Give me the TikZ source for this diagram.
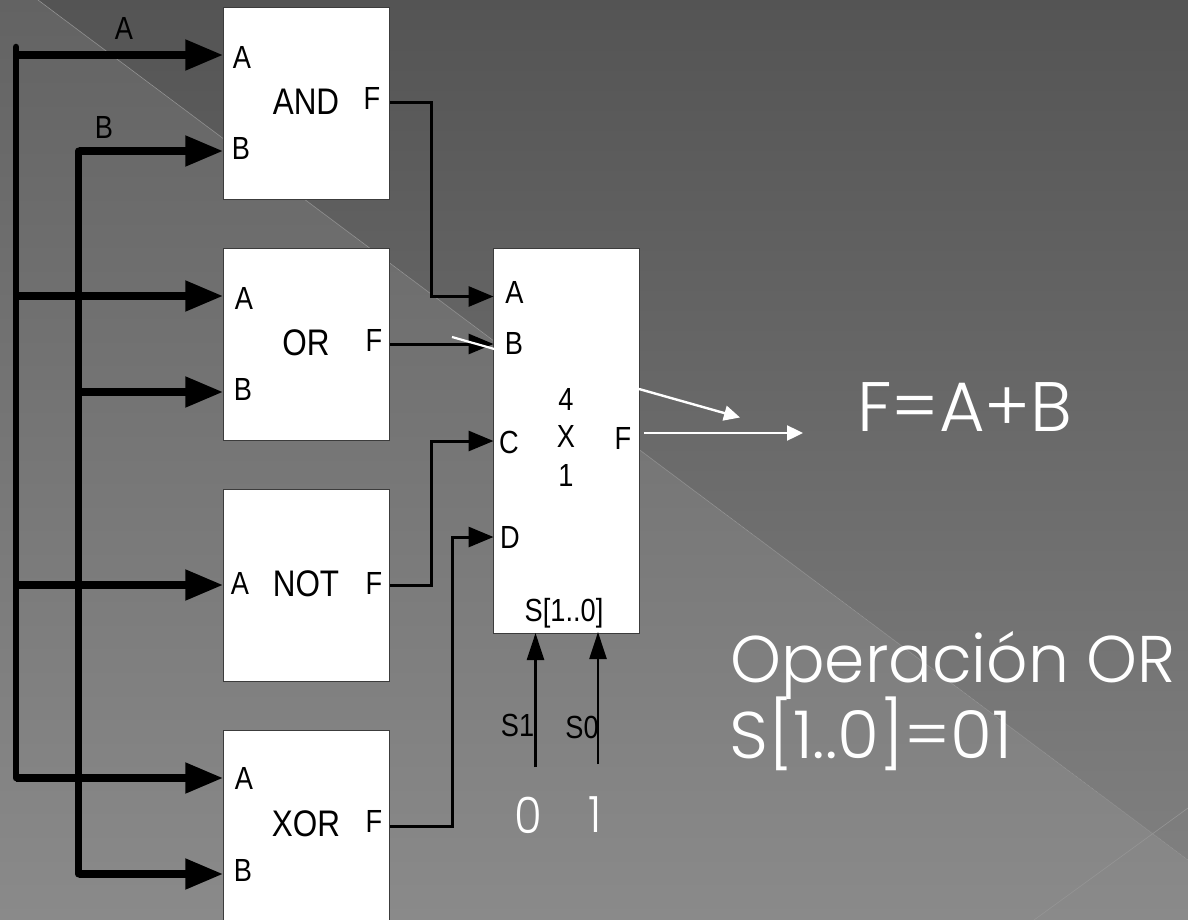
\documentclass[tikz,border=0pt]{standalone}
\usepackage{fontspec}
\setmainfont{Liberation Sans}
\newfontfamily\titlefont{Poppins Light}
\usetikzlibrary{arrows.meta}
\definecolor{topdark}{HTML}{545454}
\definecolor{botdark}{HTML}{828282}
\definecolor{toplight}{HTML}{636363}
\definecolor{botlight}{HTML}{8A8A8A}
\definecolor{rule}{HTML}{959595}
\definecolor{boxedge}{HTML}{3C3C3C}
\tikzset{
  blockbox/.style={draw=boxedge,fill=white,line width=0.9pt,minimum width=166.5pt,minimum height=192pt,inner sep=0pt,outer sep=0pt},
  muxbox/.style={draw=boxedge,fill=white,line width=0.9pt,minimum width=146pt,minimum height=385pt,inner sep=0pt,outer sep=0pt},
  lab/.style={inner sep=0pt,font=\fontsize{32}{32}\selectfont,xscale=.85,text=black},
  biglab/.style={inner sep=0pt,font=\fontsize{37}{37}\selectfont,xscale=.85,text=black},
  title/.style={inner sep=0pt,anchor=base west,text=white,font=\titlefont\fontsize{66}{66}\selectfont},
  digit/.style={inner sep=0pt,text=white,xscale=.9,font=\titlefont\fontsize{50}{50}\selectfont},
  bus/.style={line width=6.5pt,line cap=round,draw=black},
  busin/.style={line width=8pt,draw=black,-{Triangle[length=38pt,width=29pt]}},
  wire/.style={line width=3pt,draw=black,-{Triangle[length=25pt,width=20pt]}},
  sel/.style={line width=2.4pt,draw=black,-{Triangle[length=27pt,width=17pt]}},
  whitearrow/.style={line width=2.4pt,draw=white,-{Triangle[length=16pt,width=15pt]}},
}
\begin{document}
\begin{tikzpicture}[x=1pt,y=-1pt]
\useasboundingbox (0,0) rectangle (1188,920);
\begin{scope}
\clip (0,0) rectangle (1188,920);
\fill[top color=topdark,bottom color=botdark] (0,0) rectangle (1188,920);
\fill[top color=toplight,bottom color=botlight] (38,0) -- (1188,860) -- (1188,920) -- (0,920) -- (0,0) -- cycle;
\draw[rule,line width=0.6pt] (38,0) -- (1188,860);
\draw[rule,line width=0.6pt] (1034,920) -- (1188,808);

% blocks
\node[blockbox] (and) at (306.5,103) {};
\node[blockbox] (or)  at (306.5,344) {};
\node[blockbox] (not) at (306.5,585) {};
\node[blockbox] (xor) at (306.5,826) {};
\node[muxbox]   (mux) at (566.5,440.5) {};

% bus ends and junctions
\coordinate (atop) at (16,47);
\coordinate (abot) at (16,778);
\coordinate (btop) at (78.5,151);
\coordinate (bbot) at (78.5,874);
\coordinate (aj1) at (16,55);
\coordinate (aj2) at (13,296);
\coordinate (aj3) at (13,585);
\coordinate (bj2) at (78.5,392);

\draw[bus] (atop) -- (abot);
\draw[bus,line width=7pt] (btop) -- (bbot);

\draw[busin] (aj1) -- (and.west |- aj1);
\draw[busin] (btop) -- (and.west |- btop);
\draw[busin] (aj2) -- (or.west |- aj2);
\draw[busin] (bj2) -- (or.west |- bj2);
\draw[busin] (aj3) -- (not.west |- aj3);
\draw[busin] (abot) -- (xor.west |- abot);
\draw[busin] (bbot) -- (xor.west |- bbot);

% outputs to multiplexer
\coordinate (ma) at (493.5,296.5);
\coordinate (mb) at (493.5,344);
\coordinate (mc) at (493.5,441);
\coordinate (md) at (493.5,537);
\draw[wire] (and.east) -- (431,103) -- (431,296.5) -- (ma);
\draw[wire] (or.east) -- (mb);
\draw[wire] (not.east) -- (431,585) -- (431,441) -- (mc);
\draw[wire] (xor.east) -- (452,826) -- (452,537) -- (md);

% selector inputs
\coordinate (s1a) at (535.5,767);
\coordinate (s1b) at (535.5,633);
\coordinate (s0a) at (598,764);
\coordinate (s0b) at (598,632);
\draw[sel] (s1a) -- (s1b);
\draw[sel] (s0a) -- (s0b);

% white marks
\coordinate (wa) at (452,337);
\coordinate (wb) at (496,349.5);
\draw[draw=white,line width=2.2pt] (wa) -- (wb);
\coordinate (xa) at (639,389);
\coordinate (xb) at (740,417.5);
\coordinate (ya) at (644,433);
\coordinate (yb) at (803,433);
\draw[whitearrow] (xa) -- (xb);
\draw[whitearrow] (ya) -- (yb);

% labels
\node[lab] (la) at (124,28) {A};
\node[lab] (lb) at (104,127) {B};

\node[lab] (a1) at (242,57) {A};
\node[lab] (b1) at (241,148) {B};
\node[lab] (f1) at (372,98) {F};
\node[biglab] (t1) at (306,102) {AND};

\node[lab] (a2) at (244,298) {A};
\node[lab] (b2) at (243,389) {B};
\node[lab] (f2) at (374,340) {F};
\node[biglab] (t2) at (306,343) {OR};

\node[lab] (a3) at (240,583) {A};
\node[lab] (f3) at (374,583) {F};
\node[biglab] (t3) at (306,584) {NOT};

\node[lab] (a4) at (244,778) {A};
\node[lab] (b4) at (243,870) {B};
\node[lab] (f4) at (374,821) {F};
\node[biglab] (t4) at (306,824) {XOR};

\node[lab] (ma1) at (514.5,292) {A};
\node[lab] (mb1) at (514,343) {B};
\node[lab] (mc1) at (509,442) {C};
\node[lab] (md1) at (510,537) {D};
\node[lab] (m4) at (566,399) {4};
\node[lab] (mx) at (566,436) {X};
\node[lab] (m1) at (566,475) {1};
\node[lab] (mf) at (623,438) {F};
\node[lab] (ms) at (564,613) {S[1..0]};
\node[lab] (s1) at (517.5,725) {S1};
\node[lab] (s0) at (582,727) {S0};

\node[digit] (d0) at (528,815) {0};
\node[digit] (d1) at (595,815) {1};

\node[title,font=\titlefont\fontsize{70}{70}\selectfont] (eq) at (857,431) {F=A+B};
\node[title,xscale=.98] (op) at (730,682) {Operación OR};
\node[title,xscale=1.03] (sv) at (729,758) {S[1..0]=01};
\end{scope}
\end{tikzpicture}
\end{document}
